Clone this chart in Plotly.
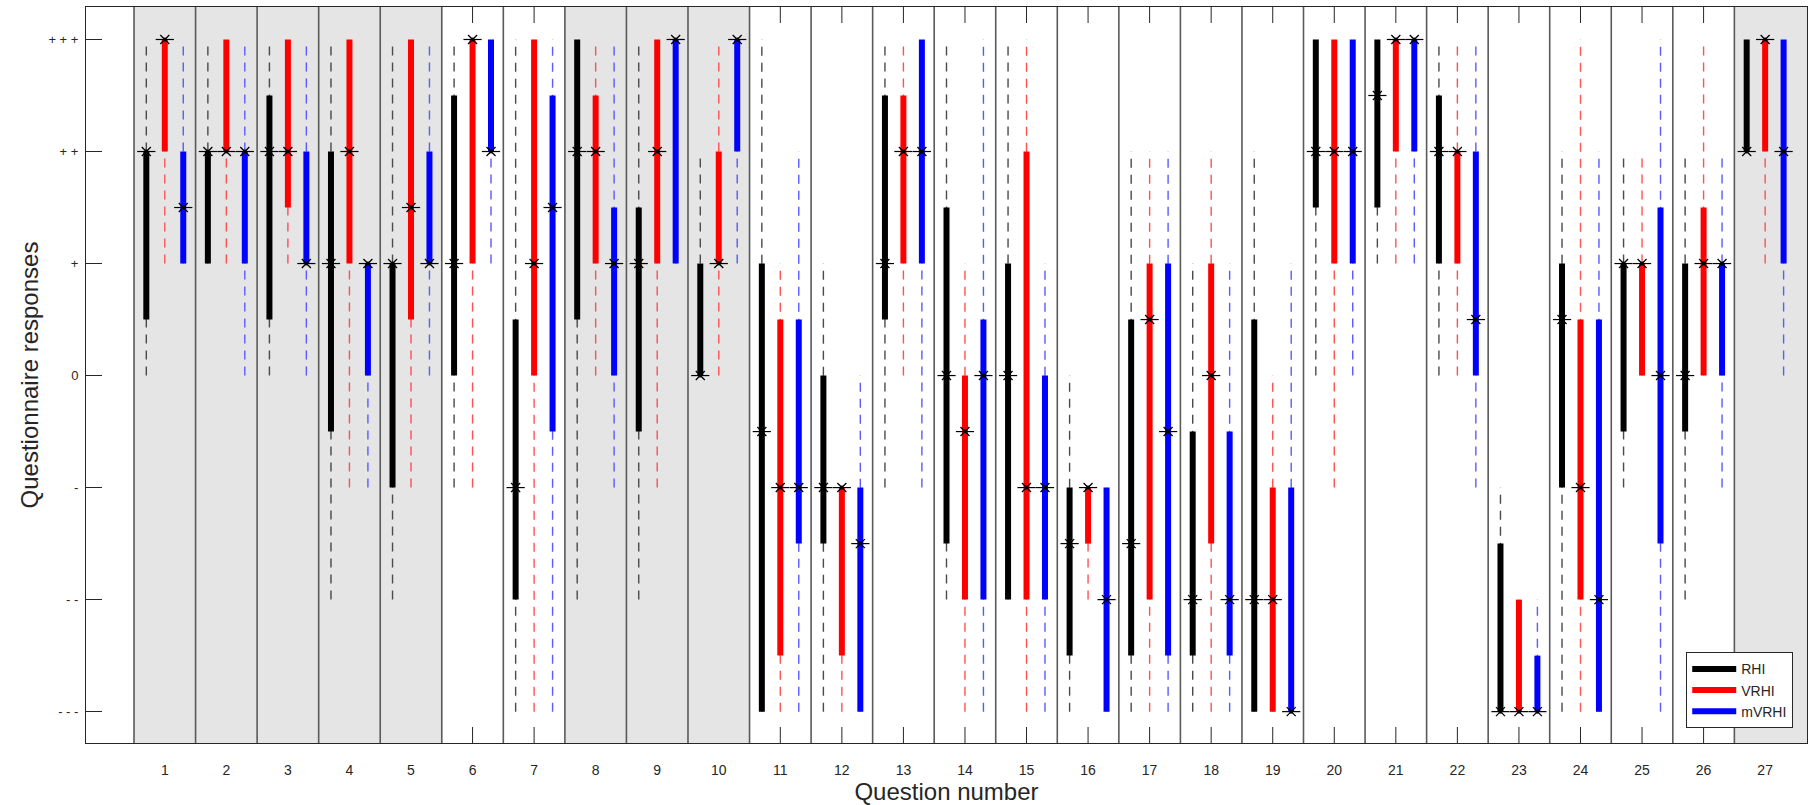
import plotly.graph_objects as go

# ---------------- data ----------------
questions = list(range(1, 28))
series_names = ["RHI", "VRHI", "mVRHI"]
y_tick_vals = [-3, -2, -1, 0, 1, 2, 3]
y_tick_text = ["- - -", "- -", "-", "0", "+", "+ +", "+ + +"]
shaded_questions = [1, 2, 3, 4, 5, 8, 9, 10, 27]

rhi_min = [0, 1, 0, -2, -2, -1, -3, -2, -2, 0, -3, -3, -1, -2, -2, -3, -3, -3, -3, 0, 1, 0, -3, -3, -1, -2, 2]
rhi_q1 = [0.5, 1, 0.5, -0.5, -1, 0, -2, 0.5, -0.5, 0, -3, -1.5, 0.5, -1.5, -2, -2.5, -2.5, -2.5, -3, 1.5, 1.5, 1, -3, -1, -0.5, -0.5, 2]
rhi_med = [2, 2, 2, 1, 1, 1, -1, 2, 1, 0, -0.5, -1, 1, 0, 0, -1.5, -1.5, -2, -2, 2, 2.5, 2, -3, 0.5, 1, 0, 2]
rhi_q3 = [2, 2, 2.5, 2, 1, 2.5, 0.5, 3, 1.5, 1, 1, 0, 2.5, 1.5, 1, -1, 0.5, -0.5, 0.5, 3, 3, 2.5, -1.5, 1, 1, 1, 3]
rhi_max = [3, 3, 3, 3, 3, 3, 3, 3, 3, 2, 3, 1, 3, 3, 3, 0, 2, 1, 2, 3, 3, 3, -1, 2, 2, 2, 3]

vrhi_min = [1, 1, 1, -1, -1, -1, -3, 0, -1, 0, -3, -3, 0, -3, -3, -2, -3, -3, -3, -1, 1, 0, -3, -3, 0, 0, 1]
vrhi_q1 = [2, 2, 1.5, 1, 0.5, 1, 0, 1, 1, 1, -2.5, -2.5, 1, -2, -2, -1.5, -2, -1.5, -3, 1, 2, 1, -3, -2, 0, 0, 2]
vrhi_med = [3, 2, 2, 2, 1.5, 3, 1, 2, 2, 1, -1, -1, 2, -0.5, -1, -1, 0.5, 0, -2, 2, 3, 2, -3, -1, 1, 1, 3]
vrhi_q3 = [3, 3, 3, 3, 3, 3, 3, 2.5, 3, 2, 0.5, -1, 2.5, 0, 2, -1, 1, 1, -1, 3, 3, 2, -2, 0.5, 1, 1.5, 3]
vrhi_max = [3, 3, 3, 3, 3, 3, 3, 3, 3, 3, 1, -1, 3, 1, 3, -1, 2, 2, 0, 3, 3, 3, -2, 3, 2, 3, 3]

mvrhi_min = [1, 0, 0, -1, 0, 1, -3, -1, 1, 1, -3, -3, -1, -3, -3, -3, -3, -3, -3, 0, 1, -1, -3, -3, -3, -1, 0]
mvrhi_q1 = [1, 1, 1, 0, 1, 2, -0.5, 0, 1, 2, -1.5, -3, 1, -2, -2, -3, -2.5, -2.5, -3, 1, 2, 0, -3, -3, -1.5, 0, 1]
mvrhi_med = [1.5, 2, 1, 1, 1, 2, 1.5, 1, 3, 3, -1, -1.5, 2, 0, -1, -2, -0.5, -2, -3, 2, 3, 0.5, -3, -2, 0, 1, 2]
mvrhi_q3 = [2, 2, 2, 1, 2, 3, 2.5, 1.5, 3, 3, 0.5, -1, 3, 0.5, 0, -1, 1, -0.5, -1, 3, 3, 2, -2.5, 0.5, 1.5, 1, 3]
mvrhi_max = [3, 3, 3, 1, 3, 3, 3, 3, 3, 3, 2, 0, 3, 3, 1, -1, 2, 1, 1, 3, 3, 3, -2, 2, 3, 2, 3]

# ---------------- style ----------------
X_RANGE = [-0.28, 27.68]
Y_RANGE = [-3.28, 3.29]
offsets = [-0.3, 0.0, 0.3]
bar_colors = ["#000000", "#ff0000", "#0000ff"]
whisker_colors = ["#4a4a4a", "#ff5050", "#5a5aff"]
FONT = "Liberation Sans, Arial, sans-serif"
TXT = "#262626"
PLOT_H = 805 - 7 - 62
TICK_FRAC = 16 / PLOT_H

stats = [
    (rhi_min, rhi_q1, rhi_med, rhi_q3, rhi_max),
    (vrhi_min, vrhi_q1, vrhi_med, vrhi_q3, vrhi_max),
    (mvrhi_min, mvrhi_q1, mvrhi_med, mvrhi_q3, mvrhi_max),
]

fig = go.Figure()

for si, (mn, q1, md, q3, mx) in enumerate(stats):
    xs = [q + offsets[si] for q in questions]
    wx, wy = [], []
    for x, a, b in zip(xs, mn, mx):
        wx += [x, x, None]
        wy += [a, b, None]
    fig.add_trace(go.Scatter(x=wx, y=wy, mode="lines",
                             line=dict(color=whisker_colors[si], width=1.4, dash="9px,7px"),
                             showlegend=False, hoverinfo="skip"))

for si, (mn, q1, md, q3, mx) in enumerate(stats):
    xs = [q + offsets[si] for q in questions]
    bx, by = [], []
    for x, a, b in zip(xs, q1, q3):
        bx += [x, x, None]
        by += [a, b, None]
    fig.add_trace(go.Scatter(x=bx, y=by, mode="lines", name=series_names[si],
                             line=dict(color=bar_colors[si], width=6),
                             showlegend=True, hoverinfo="skip"))

for si, (mn, q1, md, q3, mx) in enumerate(stats):
    xs = [q + offsets[si] for q in questions]
    fig.add_trace(go.Scatter(x=xs, y=md, mode="markers",
                             marker=dict(symbol="x-thin-open", size=9, color="#000000",
                                         line=dict(color="#000000", width=1.3)),
                             showlegend=False, hoverinfo="skip"))
    fig.add_trace(go.Scatter(x=xs, y=md, mode="markers",
                             marker=dict(symbol="line-ew-open", size=13, color="#000000",
                                         line=dict(color="#000000", width=1.2)),
                             showlegend=False, hoverinfo="skip"))
    fig.add_trace(go.Scatter(x=xs, y=md, mode="markers",
                             marker=dict(symbol="circle", size=4, color="#000000"),
                             showlegend=False, hoverinfo="skip"))

# ---------------- background shapes ----------------
shapes = []
for q in shaded_questions:
    x1 = X_RANGE[1] if q == questions[-1] else q + 0.5
    shapes.append(dict(type="rect", xref="x", yref="paper", x0=q - 0.5, x1=x1, y0=0, y1=1,
                       fillcolor="#e5e5e5", line=dict(width=0), layer="below"))
for q in questions:
    if q not in shaded_questions:
        for y0, y1 in [(0, TICK_FRAC), (1 - TICK_FRAC, 1)]:
            shapes.append(dict(type="line", xref="x", yref="paper", x0=q, x1=q, y0=y0, y1=y1,
                               line=dict(color=TXT, width=1), layer="below"))
for q in [0] + questions[:-1]:
    shapes.append(dict(type="line", xref="x", yref="paper", x0=q + 0.5, x1=q + 0.5, y0=0, y1=1,
                       line=dict(color="#5a5a5a", width=1.6), layer="below"))

fig.update_layout(
    width=1809, height=805,
    margin=dict(l=86, r=2, t=7, b=62),
    paper_bgcolor="white", plot_bgcolor="white",
    font=dict(family=FONT, color=TXT, size=13),
    shapes=shapes,
    showlegend=True,
    legend=dict(x=0.992, y=0.02, xanchor="right", yanchor="bottom",
                bgcolor="white", bordercolor=TXT, borderwidth=1,
                font=dict(size=14, color=TXT), tracegroupgap=0, itemwidth=44),
)
fig.update_xaxes(range=X_RANGE, tickmode="array", tickvals=questions,
                 ticktext=[str(q) for q in questions], ticks="",
                 showgrid=False, zeroline=False, showline=True, mirror=True,
                 linecolor=TXT, linewidth=1, tickfont=dict(size=14, color=TXT),
                 ticklabelstandoff=14, automargin=False,
                 title=dict(text="Question number", font=dict(size=24, color=TXT), standoff=2))
fig.update_yaxes(range=Y_RANGE, tickmode="array", tickvals=y_tick_vals, ticktext=y_tick_text,
                 ticks="inside", ticklen=16, tickcolor=TXT, tickwidth=1,
                 showgrid=False, zeroline=False, showline=True, mirror=True,
                 linecolor=TXT, linewidth=1, tickfont=dict(size=13, color=TXT),
                 ticklabelstandoff=4, automargin=False,
                 title=dict(text="Questionnaire responses", font=dict(size=24, color=TXT), standoff=3))

fig.write_html("out.html", config={"displayModeBar": False},
               post_script="document.body.style.margin='0';document.body.style.overflow='hidden';")
